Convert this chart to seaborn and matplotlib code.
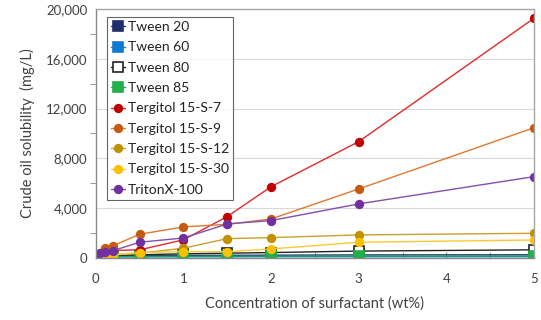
import matplotlib
matplotlib.use('Agg')
import matplotlib.pyplot as plt
from matplotlib.ticker import MultipleLocator, FuncFormatter
import seaborn as sns
import pandas as pd

# concentrations (wt%)
conc = [0, 0.05, 0.1, 0.2, 0.5, 1, 1.5, 2, 3, 5]

# crude oil solubility (mg/L)
tween20 = [100, 120, 140, 160, 180, 200, 210, 220, 240, 250]
tween60 = [60, 70, 70, 80, 80, 90, 90, 100, 100, 100]
tween80 = [100, 130, 150, 180, 250, 330, 380, 430, 550, 650]
tween85 = [80, 90, 100, 110, 120, 130, 140, 140, 150, 150]
terg7 = [100, 300, 450, 600, 650, 1450, 3320, 5720, 9340, 19250]
terg9 = [150, 400, 830, 990, 1900, 2490, 2700, 3130, 5540, 10460]
terg12 = [100, 150, 200, 250, 380, 780, 1550, 1630, 1850, 1980]
terg30 = [100, 150, 200, 250, 430, 500, 500, 720, 1260, 1440]
triton = [0, 400, 500, 590, 1260, 1600, 2730, 3000, 4340, 6530]

names = ["Tween 20", "Tween 60", "Tween 80", "Tween 85",
         "Tergitol 15-S-7", "Tergitol 15-S-9", "Tergitol 15-S-12",
         "Tergitol 15-S-30", "TritonX-100"]
values = [tween20, tween60, tween80, tween85, terg7, terg9, terg12, terg30, triton]

styles = {
    "Tween 20": dict(color="#1f2f6b", marker="s", mfc="#1f2f6b", mec="#1f2f6b", ms=6.5),
    "Tween 60": dict(color="#0f7bd0", marker="s", mfc="#0f7bd0", mec="#0f7bd0", ms=6.5),
    "Tween 80": dict(color="#222222", marker="s", mfc="white", mec="#222222", ms=6.5),
    "Tween 85": dict(color="#1aa06a", marker="s", mfc="#22b04c", mec="#22b04c", ms=6.5),
    "Tergitol 15-S-7": dict(color="#e02a2a", marker="o", mfc="#c00000", mec="#c00000", ms=5.5),
    "Tergitol 15-S-9": dict(color="#e0782e", marker="o", mfc="#c55a11", mec="#c55a11", ms=5.5),
    "Tergitol 15-S-12": dict(color="#c9a227", marker="o", mfc="#bf9000", mec="#bf9000", ms=5.5),
    "Tergitol 15-S-30": dict(color="#ffc833", marker="o", mfc="#ffc000", mec="#ffc000", ms=5.5),
    "TritonX-100": dict(color="#8050b0", marker="o", mfc="#7030a0", mec="#7030a0", ms=5.5),
}

sns.set_style("white")
plt.rcParams['font.family'] = ['Lato', 'DejaVu Sans']

fig, ax = plt.subplots(figsize=(5.41, 3.2), dpi=100)
fig.subplots_adjust(left=0.177, right=0.987, top=0.972, bottom=0.194)

for name, vals in zip(names, values):
    st = styles[name]
    df = pd.DataFrame({"conc": conc, "sol": vals})
    sns.lineplot(data=df, x="conc", y="sol", ax=ax, label=name,
                 color=st["color"], linewidth=1.0, marker=st["marker"],
                 markersize=st["ms"], markerfacecolor=st["mfc"],
                 markeredgecolor=st["mec"], markeredgewidth=1.2)

ax.set_xlim(0, 5)
ax.set_ylim(0, 20000)
ax.xaxis.set_major_locator(MultipleLocator(1))
ax.xaxis.set_minor_locator(MultipleLocator(0.5))
ax.yaxis.set_major_locator(MultipleLocator(4000))
ax.yaxis.set_minor_locator(MultipleLocator(2000))
ax.yaxis.set_major_formatter(FuncFormatter(lambda v, p: f"{int(v):,}"))
ax.grid(axis="y", which="major", color="#d9d9d9", linewidth=0.8)
ax.set_axisbelow(True)
ax.tick_params(axis="y", which="major", length=0, labelsize=9.5, colors="#404040", pad=6)
ax.tick_params(axis="y", which="minor", length=4, direction="out", color="#888888", left=True)
ax.tick_params(axis="x", which="both", length=4, direction="in", color="#888888", bottom=True, labelsize=9.5, labelcolor="#404040", pad=11)
for sp in ax.spines.values():
    sp.set_color("#a6a6a6")
    sp.set_linewidth(1.0)
ax.spines["left"].set_color("#888888")
ax.spines["bottom"].set_color("#888888")

ax.set_xlabel("Concentration of surfactant (wt%)", fontsize=10.5, color="#404040", labelpad=8)
ax.set_ylabel("Crude oil solubility  (mg/L)", fontsize=10.5, color="#404040", labelpad=8)

leg = ax.legend(loc="upper left", bbox_to_anchor=(0.025, 0.968), fontsize=10,
                frameon=True, fancybox=False, edgecolor="#404040",
                handlelength=1.0, handletextpad=0.2, labelspacing=0.6,
                borderpad=0.3, borderaxespad=0.0)
leg.get_frame().set_linewidth(0.8)
for t in leg.get_texts():
    t.set_color("#222222")

plt.savefig("out.png", dpi=100)
plt.close()
